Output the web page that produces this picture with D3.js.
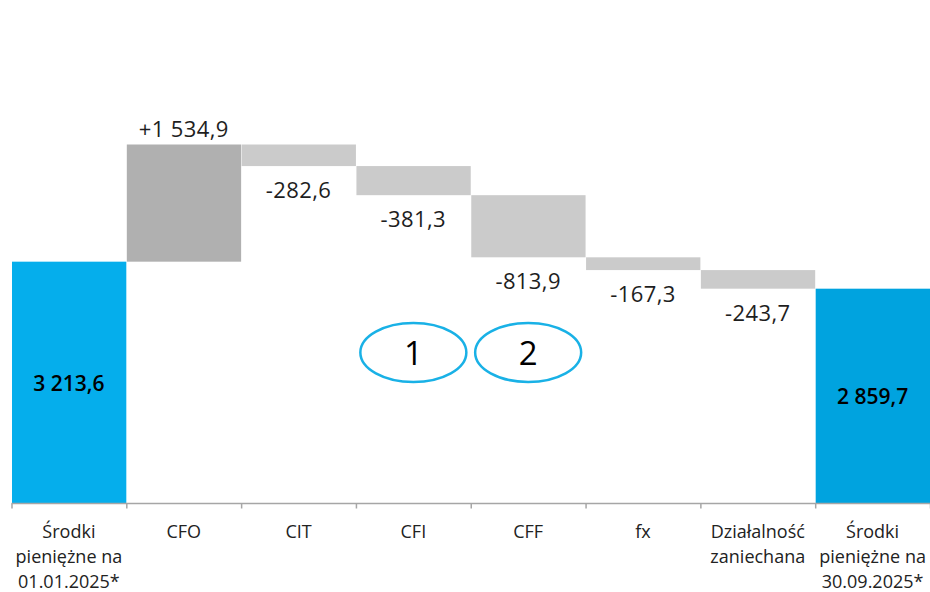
<!DOCTYPE html>
<html>
<head>
<meta charset="utf-8">
<script src="https://cdn.jsdelivr.net/npm/d3@7"></script>
<style>
  html, body { margin: 0; padding: 0; background: #fff; }
  svg { display: block; font-family: "Open Sans", "Noto Sans", sans-serif; }
</style>
</head>
<body>
<svg id="chart" width="930" height="592"></svg>
<script>
"use strict";

// categories (multi-line labels)
const categories = [
    ["Środki", "pieniężne na", "01.01.2025*"],
    ["CFO"],
    ["CIT"],
    ["CFI"],
    ["CFF"],
    ["fx"],
    ["Działalność", "zaniechana"],
    ["Środki", "pieniężne na", "30.09.2025*"]
];

// kind of each step: total bar or change
const kinds = ["total", "delta", "delta", "delta", "delta", "delta", "delta", "total"];

// values (mln)
const values = [3213.6, 1534.9, -282.6, -381.3, -813.9, -167.3, -243.7, 2859.7];

// value labels as printed
const valueLabels = ["3 213,6", "+1 534,9", "-282,6", "-381,3", "-813,9", "-167,3", "-243,7", "2 859,7"];

// circled markers under CFI and CFF
const markers = [
    {cat: 3, text: "1"},
    {cat: 4, text: "2"}
];

// build the waterfall steps
let running = 0;
const steps = values.map((v, i) => {
    let s;
    if (kinds[i] === "total") {
        s = {i: i, lo: 0, hi: v, v: v};
        running = v;
    } else {
        const start = running;
        running += v;
        s = {i: i, lo: Math.min(start, running), hi: Math.max(start, running), v: v};
    }
    return s;
});

const left = 11.5, right = 930;
const axisY = 503.5;
const maxTop = d3.max(steps, d => d.hi);

const x = d3.scaleBand()
    .domain(d3.range(categories.length))
    .range([left, right])
    .padding(0);

const y = d3.scaleLinear()
    .domain([0, maxTop])
    .range([507, 144.5]);

const svg = d3.select("#chart");

const colorFor = function(d) {
    if (d.i === 0) return "#05aeec";
    if (d.i === categories.length - 1) return "#00a3df";
    if (d.v > 0) return "#b0b0b0";
    return "#cbcbcb";
};

// bars
svg.append("g")
    .selectAll("rect")
    .data(steps)
    .enter()
    .append("rect")
    .attr("x", d => x(d.i) + 0.5)
    .attr("width", x.bandwidth() - 0.5)
    .attr("y", d => y(d.hi))
    .attr("height", d => Math.min(y(d.lo), axisY) - y(d.hi))
    .attr("fill", colorFor);

// axis line and ticks
const gx = svg.append("g");
gx.append("line")
    .attr("x1", left).attr("x2", right)
    .attr("y1", axisY).attr("y2", axisY)
    .attr("stroke", "#a6a6a6")
    .attr("stroke-width", 1.5);

gx.selectAll("line.tick")
    .data(d3.range(categories.length + 1))
    .enter()
    .append("line")
    .attr("class", "tick")
    .attr("x1", d => left + d * x.bandwidth() + 0.5)
    .attr("x2", d => left + d * x.bandwidth() + 0.5)
    .attr("y1", axisY)
    .attr("y2", axisY + 5)
    .attr("stroke", "#a6a6a6")
    .attr("stroke-width", 1.5);

// category labels
const cat = svg.append("g")
    .selectAll("text")
    .data(categories)
    .enter()
    .append("text")
    .attr("text-anchor", "middle")
    .attr("font-size", 18)
    .attr("fill", "#222");

cat.selectAll("tspan")
    .data((d, i) => d.map(t => ({t: t, i: i})))
    .enter()
    .append("tspan")
    .attr("x", d => x(d.i) + x.bandwidth() / 2)
    .attr("y", (d, j) => 538 + j * 25)
    .text(d => d.t);

// value labels
svg.append("g")
    .selectAll("text")
    .data(steps)
    .enter()
    .append("text")
    .attr("text-anchor", "middle")
    .attr("x", d => x(d.i) + x.bandwidth() / 2)
    .attr("y", d => {
        if (kinds[d.i] === "total") return (y(d.hi) + axisY) / 2 + 8;
        if (d.v > 0) return y(d.hi) - 8;
        return y(d.lo) + 32;
    })
    .attr("font-size", d => kinds[d.i] === "total" ? 21 : 22)
    .attr("font-weight", d => kinds[d.i] === "total" ? 600 : 400)
    .attr("letter-spacing", d => kinds[d.i] === "total" ? 0 : 0.4)
    .attr("fill", d => kinds[d.i] === "total" ? "#000" : "#1e1e1e")
    .text(d => valueLabels[d.i]);

// circled markers
const mk = svg.append("g")
    .selectAll("g")
    .data(markers)
    .enter()
    .append("g")
    .attr("transform", d => "translate(" + (x(d.cat) + x.bandwidth() / 2) + ",352.5)");

mk.append("ellipse")
    .attr("rx", 53)
    .attr("ry", 29.5)
    .attr("fill", "none")
    .attr("stroke", "#19b1e6")
    .attr("stroke-width", 2.5);

mk.append("text")
    .attr("text-anchor", "middle")
    .attr("y", 12)
    .attr("font-size", 33)
    .attr("fill", "#000")
    .text(d => d.text);
</script>
</body>
</html>
